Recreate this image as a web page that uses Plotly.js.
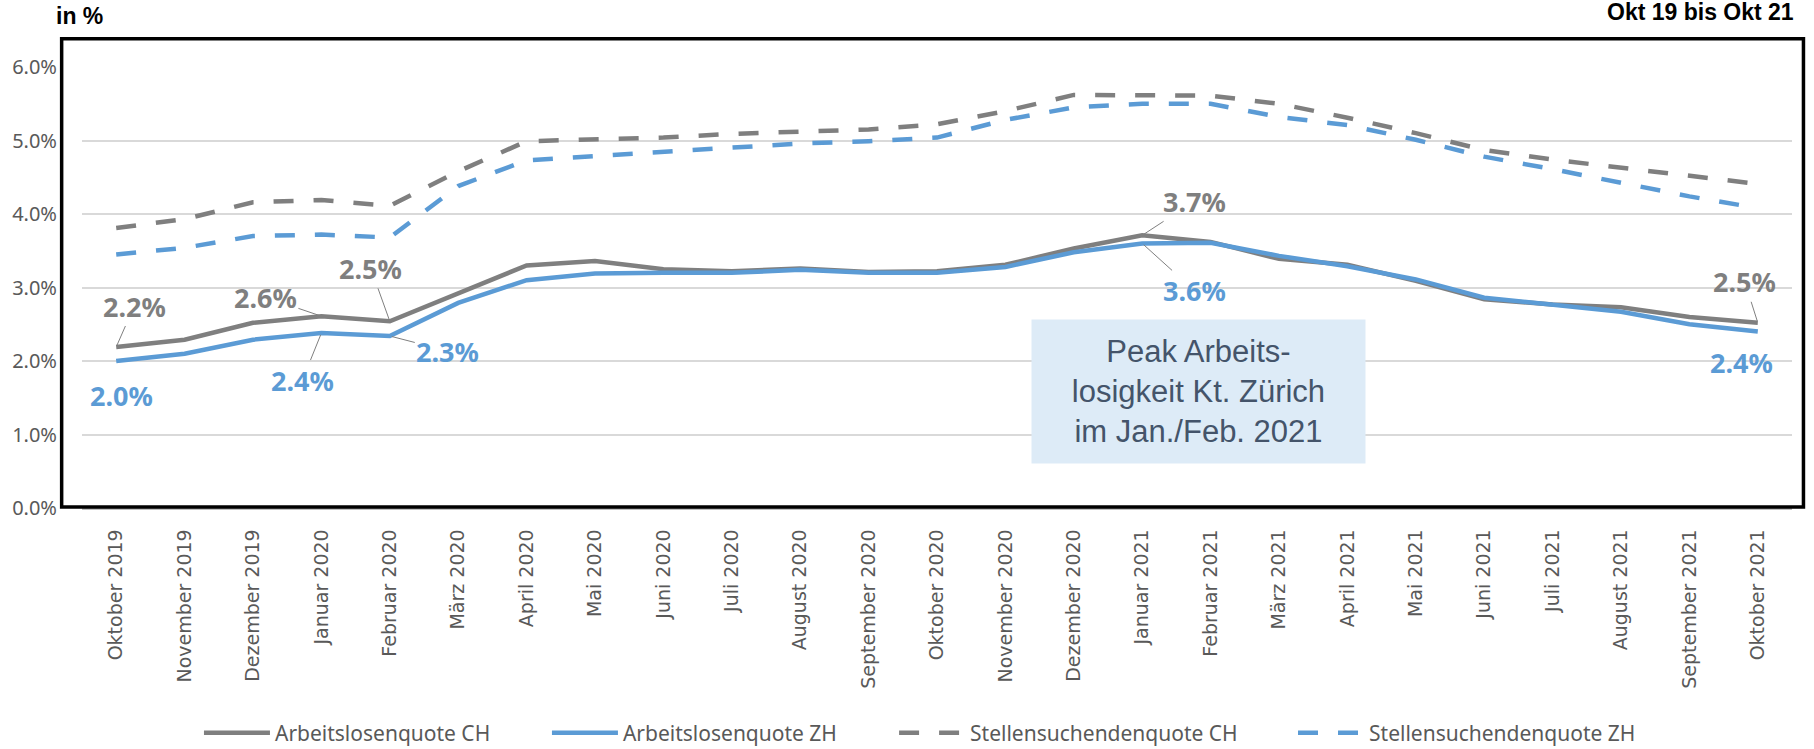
<!DOCTYPE html>
<html>
<head>
<meta charset="utf-8">
<script src="https://cdn.plot.ly/plotly-3.0.1.min.js"></script>
<style>html,body{margin:0;padding:0;background:#fff;}#chart{width:1814px;height:749px;}</style>
</head>
<body>
<div id="chart"></div>
<script>
// ---- data ----
const months = ['Oktober 2019','November 2019','Dezember 2019','Januar 2020','Februar 2020','März 2020','April 2020','Mai 2020','Juni 2020','Juli 2020','August 2020','September 2020','Oktober 2020','November 2020','Dezember 2020','Januar 2021','Februar 2021','März 2021','April 2021','Mai 2021','Juni 2021','Juli 2021','August 2021','September 2021','Oktober 2021'];
const alqCH = [2.19,2.29,2.52,2.61,2.54,2.92,3.30,3.36,3.25,3.22,3.26,3.21,3.22,3.31,3.53,3.71,3.62,3.39,3.31,3.09,2.84,2.77,2.73,2.60,2.52];
const alqZH = [2.00,2.10,2.29,2.38,2.34,2.79,3.10,3.19,3.20,3.20,3.24,3.20,3.20,3.28,3.48,3.60,3.61,3.43,3.29,3.11,2.86,2.77,2.67,2.50,2.40];
const ssqCH = [3.81,3.93,4.16,4.19,4.11,4.58,4.99,5.02,5.04,5.09,5.12,5.15,5.22,5.40,5.62,5.61,5.61,5.50,5.31,5.10,4.87,4.74,4.63,4.52,4.41];
const ssqZH = [3.45,3.54,3.70,3.72,3.68,4.38,4.73,4.79,4.85,4.90,4.96,4.99,5.04,5.28,5.45,5.50,5.50,5.32,5.21,5.01,4.78,4.61,4.43,4.24,4.08];
const seriesNames = ['Arbeitslosenquote CH','Arbeitslosenquote ZH','Stellensuchendenquote CH','Stellensuchendenquote ZH'];
const yTicks = [0,1,2,3,4,5,6];
const headerLeft = 'in %';
const headerRight = 'Okt 19 bis Okt 21';
const boxText = 'Peak Arbeits-<br>losigkeit Kt. Zürich<br>im Jan./Feb. 2021';

// ---- styles ----
const GREY = '#7F7F7F', BLUE = '#5B9BD5';
const lw = 4.5;
const DASH = '20px,20px';

const traces = [
  {x: months, y: ssqCH, name: seriesNames[2], mode: 'lines', legend: 'legend3', line: {color: GREY, width: lw, dash: DASH}},
  {x: months, y: ssqZH, name: seriesNames[3], mode: 'lines', legend: 'legend4', line: {color: BLUE, width: lw, dash: DASH}},
  {x: months, y: alqCH, name: seriesNames[0], mode: 'lines', legend: 'legend', line: {color: GREY, width: lw}},
  {x: months, y: alqZH, name: seriesNames[1], mode: 'lines', legend: 'legend2', line: {color: BLUE, width: lw}}
];

const labelFont = (c) => ({family: 'Noto Sans, sans-serif', size: 27, color: c, weight: 'bold'});
function lab(arr, i, color, ax, ay, arrow) {
  const a = {
    x: months[i], y: arr[i], xref: 'x', yref: 'y',
    text: '<b>' + arr[i].toFixed(1) + '%</b>',
    font: labelFont(color)
  };
  if (arrow) {
    Object.assign(a, {showarrow: true, ax: ax, ay: ay, arrowhead: 0, arrowwidth: 1, arrowcolor: '#7F7F7F', standoff: 2});
  } else {
    Object.assign(a, {showarrow: false, xshift: ax, yshift: -ay});
  }
  return a;
}

const annotations = [
  lab(alqCH, 0, GREY, 18, -41, true),
  lab(alqZH, 0, BLUE, 5, 34, false),
  lab(alqCH, 3, GREY, -56, -19, true),
  lab(alqZH, 3, BLUE, -19, 47, true),
  lab(alqCH, 4, GREY, -19, -53, true),
  lab(alqZH, 4, BLUE, 58, 15, true),
  lab(alqCH, 15, GREY, 52, -34, true),
  lab(alqZH, 15, BLUE, 52, 47, true),
  lab(alqCH, 24, GREY, -13, -41, true),
  lab(alqZH, 24, BLUE, -16, 31, false),
  {xref: 'paper', yref: 'paper', x: -0.0164, y: 1.1156, xanchor: 'left', yanchor: 'middle', showarrow: false,
   text: '<b>' + headerLeft + '</b>', font: {family: 'Liberation Sans, Arial, sans-serif', size: 23, color: '#000'}},
  {xref: 'paper', yref: 'paper', x: 1.0023, y: 1.1247, xanchor: 'right', yanchor: 'middle', showarrow: false,
   text: '<b>' + headerRight + '</b>', font: {family: 'Liberation Sans, Arial, sans-serif', size: 23, color: '#000'}},
  {xref: 'paper', yref: 'paper', x: 0.6529, y: 0.2653, xanchor: 'center', yanchor: 'middle', showarrow: false,
   text: boxText, width: 333, height: 143, borderpad: 0, bgcolor: '#DDEBF7', align: 'center', valign: 'middle',
   font: {family: 'Liberation Sans, Arial, sans-serif', size: 31, color: '#44546A'}}
];

const legFont = {family: 'Noto Sans, sans-serif', size: 21, color: '#595959'};
const legBase = (xp) => ({orientation: 'h', x: xp, y: -0.5102, xanchor: 'left', yanchor: 'middle', font: legFont,
                          bgcolor: 'rgba(0,0,0,0)', borderwidth: 0, itemwidth: 66});

const layout = {
  width: 1814, height: 749,
  margin: {l: 82, r: 22, t: 67, b: 241, autoexpand: false},
  paper_bgcolor: '#fff', plot_bgcolor: '#fff',
  showlegend: true,
  legend: legBase(0.0684),
  legend2: legBase(0.2719),
  legend3: legBase(0.4749),
  legend4: legBase(0.7082),
  xaxis: {type: 'category', range: [-0.5, 24.5], tickangle: -90, showgrid: false, zeroline: false,
          showline: true, linecolor: '#BFBFBF', linewidth: 1.5, automargin: false,
          ticks: 'outside', ticklen: 12, tickcolor: 'rgba(0,0,0,0)',
          tickfont: {family: 'DejaVu Sans, sans-serif', size: 19, color: '#595959'}},
  yaxis: {range: [0, 6], tickvals: yTicks, ticktext: yTicks.map(v => v.toFixed(1) + '%'),
          showgrid: true, gridcolor: '#D9D9D9', gridwidth: 1.5, zeroline: false, showline: false, automargin: false,
          ticks: 'outside', ticklen: 20, tickcolor: 'rgba(0,0,0,0)',
          tickfont: {family: 'Noto Sans, sans-serif', size: 20, color: '#595959'}},
  shapes: [
    {type: 'rect', xref: 'paper', yref: 'paper', x0: -0.0119, x1: 1.0067, y0: 0.0023, y1: 1.0642,
     line: {color: '#000', width: 3.5}, fillcolor: 'rgba(0,0,0,0)', layer: 'above'}
  ],
  annotations: annotations
};

Plotly.newPlot('chart', traces, layout, {displayModeBar: false, responsive: false});
</script>
</body>
</html>
